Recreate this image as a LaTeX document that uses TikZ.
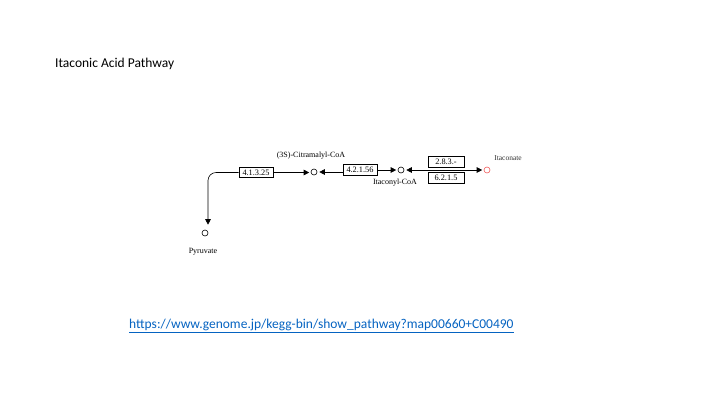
\documentclass[tikz,border=0pt]{standalone}
\usepackage{fontspec}
\setmainfont{Liberation Serif}
\newfontfamily\calfont{Carlito}
\usetikzlibrary{arrows.meta,calc}
\definecolor{urlblue}{RGB}{5,99,193}
\definecolor{cpdred}{RGB}{240,90,90}
\tikzset{
  ecbox/.style={draw, line width=0.6pt, minimum width=34pt, minimum height=10.5pt, inner sep=0pt, font=\fontsize{8.3}{9}\selectfont},
  cpd/.style={draw, circle, line width=0.6pt, minimum size=6pt, inner sep=0pt},
  cpdlabel/.style={font=\fontsize{8}{9}\selectfont, inner sep=0pt},
  rxn/.style={line width=0.6pt},
  tip/.style={-{Triangle[length=5.5pt,width=5.5pt]}},
}
\begin{document}
\begin{tikzpicture}[x=1pt,y=-1pt]
\useasboundingbox (0,0) rectangle (720,405);
% title
\node[font=\calfont\fontsize{13.5}{15}\selectfont, anchor=base west, inner sep=0pt] (title) at (55,67) {Itaconic Acid Pathway};
% compounds
\node[cpd] (pyr) at (205,233) {};
\node[cpd] (cit) at (314,172) {};
\node[cpd] (itl) at (401,170) {};
\node[cpd, draw=cpdred] (ita) at (487,170) {};
% labels
\node[cpdlabel] (pyrl) at (203,252) {Pyruvate};
\node[cpdlabel] (citl) at (311,156) {(3S)-Citramalyl-CoA};
\node[cpdlabel] (itll) at (395,182.5) {Itaconyl-CoA};
\node[cpdlabel, font=\fontsize{7.5}{8}\selectfont, text=black!80] (ital) at (508,158) {Itaconate};
% enzymes
\node[ecbox] (A) at (256,172.5) {4.1.3.25};
\node[ecbox] (B) at (360,170) {4.2.1.56};
\node[ecbox, minimum width=36pt, minimum height=11pt] (C) at (446,162) {2.8.3.-};
\node[ecbox, minimum width=36pt, minimum height=11pt] (D) at (446,177.5) {6.2.1.5};
% reactions
\draw[rxn, tip, shorten >=1.5pt] (A.east) -- (cit.west |- A.east);
\draw[rxn, tip, rounded corners=8pt, shorten >=5pt] (A.west) -| ([xshift=3pt]pyr.north);
\draw[rxn, tip, shorten >=2pt] (B.west |- cit.east) -- (cit.east);
\draw[rxn, tip, shorten >=1.5pt] (B.east) -- (itl.west);
\draw[rxn, {Triangle[length=5.5pt,width=5.5pt]}-{Triangle[length=5.5pt,width=5.5pt]}, shorten <=2pt, shorten >=1.5pt] (itl.east) -- (ita.west);
% url
\node[font=\calfont\fontsize{13.5}{15}\selectfont, text=urlblue, anchor=base west, inner sep=0pt] (url) at (129,328) {https://www.genome.jp/kegg-bin/show\_pathway?map00660+C00490};
\draw[urlblue, line width=0.8pt] ([yshift=-4.5pt]url.base west) -- ([yshift=-4.5pt]url.base east);
\end{tikzpicture}
\end{document}
